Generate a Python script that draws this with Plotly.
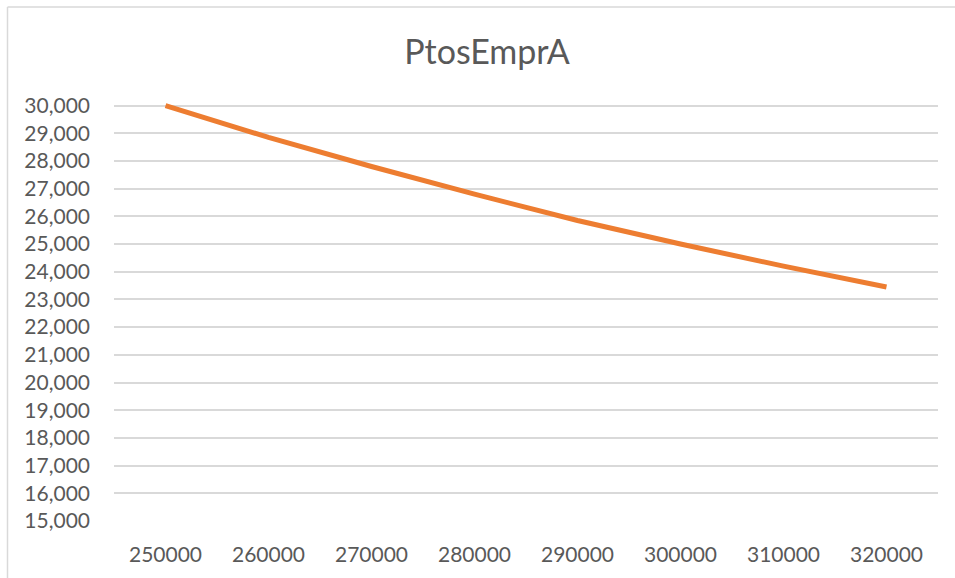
import plotly.graph_objects as go

categories = ["250000", "260000", "270000", "280000", "290000", "300000", "310000", "320000"]
values = [30000, 28850, 27800, 26800, 25850, 25000, 24200, 23450]
y_ticks = list(range(15000, 30001, 1000))
title_text = "PtosEmprA"

W, H = 955, 578
L, R = 114, 938
T, B = 99.5, 521

fig = go.Figure()
fig.add_trace(go.Scatter(
    x=categories, y=values, mode="lines",
    line=dict(color="#ED7D31", width=5),
    showlegend=False, hoverinfo="skip",
))

font_family = "Lato, Calibri, sans-serif"
tick_font = dict(family=font_family, size=21, color="#595959")

def px_to_paper_x(px):
    return (px - L) / (R - L)

def px_to_paper_y(py):
    return (B - py) / (B - T)

fig.update_layout(
    width=W, height=H,
    margin=dict(l=L, r=W - R, t=T, b=H - B, pad=0),
    paper_bgcolor="white", plot_bgcolor="white",
    title=dict(text=title_text, x=(487) / W, xanchor="center", xref="container",
               y=1 - 52 / H, yanchor="middle", yref="container",
               font=dict(family=font_family, size=34, color="#595959")),
    xaxis=dict(type="category", range=[-0.5, 7.5], showgrid=False, zeroline=False,
               showline=False, ticks="", tickfont=tick_font, ticklabelstandoff=19),
    yaxis=dict(range=[15000, 30200], tickvals=y_ticks, tickformat=",d",
               showgrid=True, gridcolor="#d9d9d9", gridwidth=1.5, zeroline=False,
               showline=False, ticks="", tickfont=tick_font, ticklabelstandoff=23),
    shapes=[
        dict(type="line", xref="paper", yref="paper",
             x0=px_to_paper_x(7.5), x1=px_to_paper_x(7.5),
             y0=px_to_paper_y(6.5), y1=px_to_paper_y(H + 5),
             line=dict(color="#d9d9d9", width=1.5)),
        dict(type="line", xref="paper", yref="paper",
             x0=px_to_paper_x(7.5), x1=px_to_paper_x(W + 5),
             y0=px_to_paper_y(6.5), y1=px_to_paper_y(6.5),
             line=dict(color="#d9d9d9", width=1.5)),
    ],
)

fig.write_html("out.html")
